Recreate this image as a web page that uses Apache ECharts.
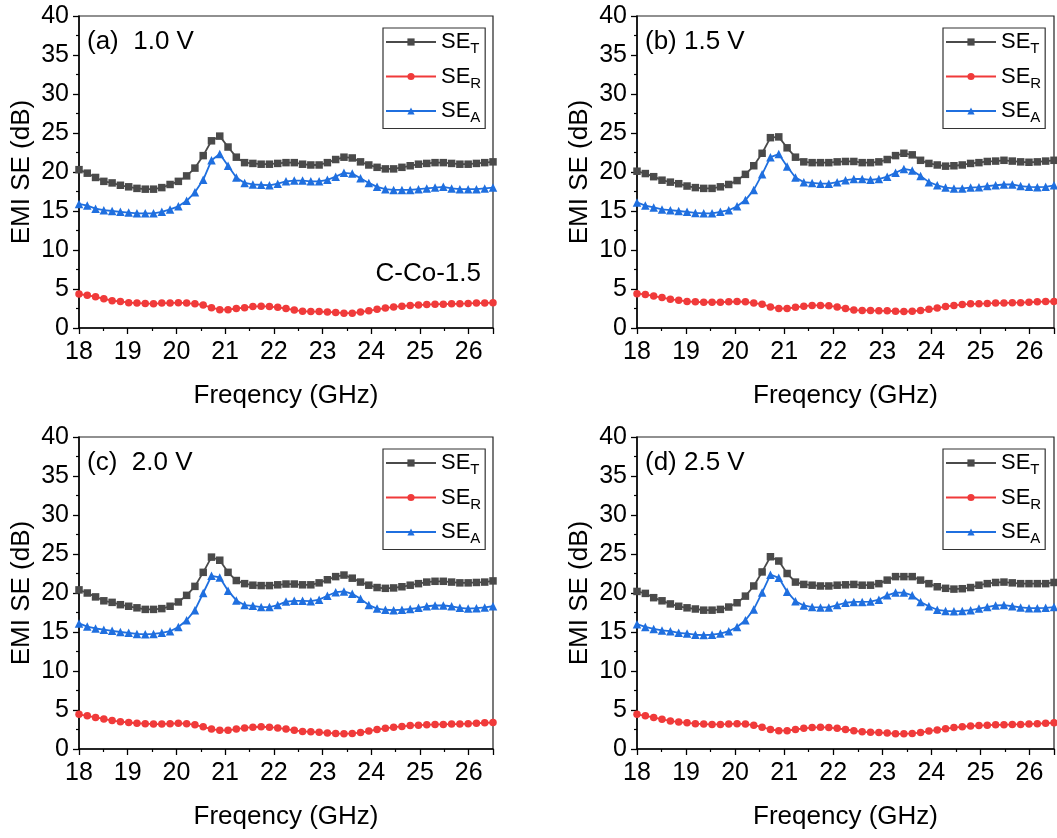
<!DOCTYPE html>
<html>
<head>
<meta charset="utf-8">
<script src="https://cdn.jsdelivr.net/npm/echarts@6/dist/echarts.min.js"></script>
<style>
html,body{margin:0;padding:0;background:#fff;}
#chart{width:1057px;height:838px;}
</style>
</head>
<body>
<div id="chart"></div>
<script>
// ---- data ----
const freq = [18, 18.17, 18.34, 18.51, 18.68, 18.85, 19.02, 19.19, 19.36, 19.53, 19.7, 19.87, 20.04, 20.21, 20.38, 20.55, 20.72, 20.89, 21.06, 21.23, 21.4, 21.57, 21.74, 21.91, 22.08, 22.25, 22.42, 22.59, 22.76, 22.93, 23.1, 23.27, 23.44, 23.61, 23.78, 23.95, 24.12, 24.29, 24.46, 24.63, 24.8, 24.97, 25.14, 25.31, 25.48, 25.65, 25.82, 25.99, 26.16, 26.33, 26.5];

const panelLabels = ['(a)  1.0 V', '(b) 1.5 V', '(c)  2.0 V', '(d) 2.5 V'];
const sampleLabel = 'C-Co-1.5';
const seriesNames = ['SE_T', 'SE_R', 'SE_A'];
const xTicks = [18, 19, 20, 21, 22, 23, 24, 25, 26];
const yTicks = [0, 5, 10, 15, 20, 25, 30, 35, 40];

const seT_a = [20.3, 19.85, 19.3, 18.8, 18.6, 18.3, 18.1, 17.9, 17.8, 17.8, 18.0, 18.4, 18.8, 19.5, 20.5, 22.1, 24.0, 24.6, 23.2, 21.9, 21.2, 21.1, 21.0, 21.0, 21.1, 21.2, 21.2, 21.0, 20.9, 20.9, 21.2, 21.6, 21.9, 21.8, 21.3, 20.9, 20.6, 20.4, 20.4, 20.6, 20.8, 21.0, 21.1, 21.2, 21.2, 21.1, 21.0, 21.0, 21.1, 21.2, 21.3];
const seR_a = [4.35, 4.2, 4.0, 3.75, 3.5, 3.4, 3.25, 3.2, 3.15, 3.1, 3.2, 3.2, 3.25, 3.2, 3.1, 2.95, 2.6, 2.35, 2.35, 2.5, 2.6, 2.75, 2.8, 2.75, 2.65, 2.5, 2.3, 2.15, 2.1, 2.1, 2.05, 2.0, 1.9, 1.9, 2.05, 2.2, 2.4, 2.55, 2.7, 2.8, 2.9, 2.95, 3.0, 3.05, 3.05, 3.1, 3.1, 3.15, 3.2, 3.2, 3.25];
const seA_a = [15.9, 15.7, 15.3, 15.1, 15.0, 14.9, 14.8, 14.7, 14.7, 14.7, 14.9, 15.2, 15.6, 16.3, 17.4, 19.0, 21.5, 22.3, 20.8, 19.3, 18.6, 18.4, 18.35, 18.3, 18.5, 18.8, 18.9, 18.9, 18.8, 18.8, 19.0, 19.4, 19.9, 19.8, 19.2, 18.6, 18.1, 17.8, 17.7, 17.7, 17.7, 17.8, 17.9, 18.0, 18.1, 17.9, 17.8, 17.8, 17.8, 17.9, 18.0];

const seT_b = [20.1, 19.8, 19.4, 18.95, 18.7, 18.5, 18.2, 18.0, 17.9, 17.9, 18.1, 18.4, 18.9, 19.7, 20.8, 22.4, 24.4, 24.5, 23.1, 21.9, 21.3, 21.2, 21.2, 21.2, 21.3, 21.35, 21.35, 21.2, 21.2, 21.3, 21.6, 22.1, 22.4, 22.2, 21.5, 21.1, 20.9, 20.75, 20.8, 20.9, 21.1, 21.2, 21.35, 21.4, 21.5, 21.4, 21.3, 21.25, 21.3, 21.4, 21.5];
const seR_b = [4.4, 4.3, 4.1, 3.9, 3.7, 3.55, 3.4, 3.35, 3.3, 3.3, 3.3, 3.35, 3.4, 3.35, 3.2, 3.05, 2.7, 2.5, 2.5, 2.65, 2.8, 2.9, 2.9, 2.85, 2.7, 2.5, 2.3, 2.25, 2.25, 2.2, 2.2, 2.15, 2.1, 2.15, 2.25, 2.4, 2.55, 2.75, 2.9, 3.0, 3.1, 3.1, 3.15, 3.2, 3.2, 3.25, 3.25, 3.3, 3.35, 3.4, 3.4];
const seA_b = [16.1, 15.7, 15.45, 15.2, 15.1, 15.0, 14.9, 14.75, 14.7, 14.7, 14.9, 15.1, 15.6, 16.4, 17.7, 19.7, 21.9, 22.3, 20.7, 19.3, 18.7, 18.6, 18.5, 18.5, 18.7, 18.95, 19.1, 19.1, 19.0, 19.1, 19.4, 19.9, 20.4, 20.2, 19.5, 18.7, 18.3, 18.0, 17.9, 17.9, 18.0, 18.05, 18.2, 18.3, 18.4, 18.4, 18.2, 18.1, 18.05, 18.1, 18.3];

const seT_c = [20.4, 20.0, 19.5, 19.0, 18.8, 18.5, 18.3, 18.1, 17.9, 17.9, 18.0, 18.3, 18.85, 19.7, 20.85, 22.65, 24.6, 24.2, 22.65, 21.6, 21.2, 21.0, 20.95, 20.95, 21.05, 21.15, 21.15, 21.05, 21.05, 21.3, 21.7, 22.1, 22.3, 21.9, 21.4, 21.0, 20.7, 20.6, 20.65, 20.8, 21.0, 21.2, 21.4, 21.5, 21.5, 21.4, 21.3, 21.3, 21.35, 21.4, 21.55];
const seR_c = [4.45, 4.25, 4.05, 3.85, 3.65, 3.5, 3.4, 3.3, 3.25, 3.2, 3.2, 3.25, 3.3, 3.25, 3.1, 2.85, 2.55, 2.4, 2.4, 2.55, 2.7, 2.8, 2.85, 2.8, 2.7, 2.55, 2.4, 2.25, 2.2, 2.15, 2.05, 2.0, 1.95, 2.0, 2.1, 2.3, 2.5, 2.65, 2.8, 2.9, 3.0, 3.05, 3.1, 3.15, 3.15, 3.2, 3.2, 3.25, 3.3, 3.35, 3.4];
const seA_c = [16.1, 15.7, 15.45, 15.3, 15.15, 15.0, 14.9, 14.75, 14.7, 14.75, 14.9, 15.1, 15.65, 16.5, 17.8, 20.0, 22.2, 22.0, 20.3, 19.05, 18.45, 18.35, 18.2, 18.2, 18.45, 18.9, 19.0, 19.0, 18.95, 19.15, 19.65, 20.1, 20.2, 19.9, 19.25, 18.45, 18.0, 17.85, 17.8, 17.85, 17.95, 18.1, 18.3, 18.4, 18.4, 18.3, 18.1, 18.0, 18.05, 18.15, 18.3];

const seT_d = [20.2, 19.95, 19.4, 19.0, 18.6, 18.3, 18.1, 17.95, 17.8, 17.8, 17.9, 18.2, 18.75, 19.6, 20.9, 22.7, 24.65, 24.1, 22.5, 21.4, 21.1, 21.0, 20.9, 20.9, 21.0, 21.05, 21.1, 21.0, 21.0, 21.2, 21.65, 22.1, 22.1, 22.1, 21.65, 21.2, 20.8, 20.6, 20.5, 20.55, 20.7, 21.0, 21.2, 21.35, 21.4, 21.3, 21.2, 21.2, 21.2, 21.2, 21.35];
const seR_d = [4.45, 4.25, 4.05, 3.8, 3.6, 3.45, 3.35, 3.25, 3.2, 3.15, 3.15, 3.2, 3.25, 3.2, 3.05, 2.8, 2.5, 2.35, 2.35, 2.5, 2.65, 2.75, 2.8, 2.75, 2.65, 2.5, 2.35, 2.2, 2.15, 2.1, 2.05, 1.95, 1.95, 2.0, 2.1, 2.3, 2.45, 2.6, 2.75, 2.85, 2.95, 3.0, 3.05, 3.1, 3.1, 3.15, 3.15, 3.2, 3.25, 3.3, 3.35];
const seA_d = [16.0, 15.65, 15.4, 15.2, 15.1, 14.9, 14.8, 14.65, 14.6, 14.65, 14.8, 15.1, 15.65, 16.5, 17.9, 20.05, 22.35, 21.95, 20.15, 18.95, 18.4, 18.2, 18.15, 18.15, 18.45, 18.75, 18.85, 18.85, 18.9, 19.15, 19.7, 20.05, 20.05, 19.7, 18.85, 18.3, 17.85, 17.7, 17.65, 17.7, 17.8, 18.0, 18.2, 18.4, 18.45, 18.3, 18.15, 18.05, 18.05, 18.1, 18.2];

const panelData = [
  [seT_a, seR_a, seA_a],
  [seT_b, seR_b, seA_b],
  [seT_c, seR_c, seA_c],
  [seT_d, seR_d, seA_d]
];

// ---- layout / style ----
const FONT = '"Liberation Sans", Arial, sans-serif';
const colors = ['#4a4a4a', '#f03a3a', '#1f6fdf'];
const symbols = ['rect', 'circle', 'triangle'];
const symbolSizes = [7.5, 7.5, 8.5];
const grids = [
  {left: 79, top: 16, width: 414, height: 312},
  {left: 637, top: 16, width: 418, height: 312},
  {left: 79, top: 437, width: 414, height: 312},
  {left: 637, top: 437, width: 418, height: 312}
];
const legendPos = [
  {left: 383, top: 28},
  {left: 943, top: 28},
  {left: 383, top: 449},
  {left: 943, top: 449}
];

const option = {
  animation: false,
  backgroundColor: '#fff',
  textStyle: {fontFamily: FONT},
  grid: grids.map(g => Object.assign({show: true, borderColor: '#222', borderWidth: 1.2, backgroundColor: 'transparent'}, g)),
  xAxis: grids.map((g, i) => ({
    type: 'value', gridIndex: i, min: xTicks[0], max: freq[freq.length - 1], interval: 1,
    name: 'Freqency (GHz)', nameLocation: 'middle', nameGap: 55,
    nameTextStyle: {fontSize: 26, color: '#000', fontFamily: FONT},
    axisLine: {show: true, lineStyle: {color: '#000', width: 1.5}},
    axisTick: {show: true, inside: false, length: 6, lineStyle: {color: '#000', width: 1.3}},
    minorTick: {show: true, splitNumber: 2, length: 3, lineStyle: {color: '#000', width: 1.2}},
    splitLine: {show: false},
    axisLabel: {fontSize: 25, color: '#000', margin: 12, fontFamily: FONT,
      formatter: v => (xTicks.indexOf(v) >= 0 ? String(v) : '')}
  })),
  yAxis: grids.map((g, i) => ({
    type: 'value', gridIndex: i, min: 0, max: 40, interval: 5,
    name: 'EMI SE (dB)', nameLocation: 'middle', nameGap: 44,
    nameTextStyle: {fontSize: 26, color: '#000', fontFamily: FONT},
    axisLine: {show: true, lineStyle: {color: '#000', width: 1.5}},
    axisTick: {show: true, inside: false, length: 6, lineStyle: {color: '#000', width: 1.3}},
    minorTick: {show: true, splitNumber: 2, length: 3, lineStyle: {color: '#000', width: 1.2}},
    splitLine: {show: false},
    axisLabel: {fontSize: 25, color: '#000', margin: 10, fontFamily: FONT,
      formatter: v => (yTicks.indexOf(v) >= 0 ? String(v) : '')}
  })),
  legend: legendPos.map(p => ({
    left: p.left, top: p.top, orient: 'vertical',
    data: seriesNames,
    itemWidth: 50, itemHeight: 9, itemGap: 9,
    padding: [3, 4, 3, 2],
    borderColor: '#333', borderWidth: 1.2,
    selectedMode: false,
    formatter: n => '{a|SE}{b|' + n.split('_')[1] + '}',
    textStyle: {
      color: '#000', fontFamily: FONT,
      rich: {
        a: {fontSize: 22, color: '#000', fontFamily: FONT},
        b: {fontSize: 15, color: '#000', fontFamily: FONT, padding: [14, 0, 0, 0]}
      }
    }
  })),
  graphic: [],
  series: []
};

panelData.forEach((arrs, p) => {
  arrs.forEach((vals, k) => {
    option.series.push({
      name: seriesNames[k], type: 'line', xAxisIndex: p, yAxisIndex: p,
      data: freq.map((f, j) => [f, vals[j]]),
      symbol: symbols[k], symbolSize: symbolSizes[k], showSymbol: true,
      itemStyle: {color: colors[k]},
      lineStyle: {color: colors[k], width: 1.8},
      clip: true
    });
  });
  option.graphic.push({
    type: 'text', left: grids[p].left + 8, top: grids[p].top + 13,
    style: {text: panelLabels[p], fill: '#000', font: '26px ' + FONT}
  });
});
option.graphic.push({
  type: 'text', right: 1057 - 481, top: 261,
  style: {text: sampleLabel, fill: '#000', font: '26px ' + FONT}
});

const chart = echarts.init(document.getElementById('chart'), null, {renderer: 'canvas'});
chart.setOption(option);
</script>
</body>
</html>
